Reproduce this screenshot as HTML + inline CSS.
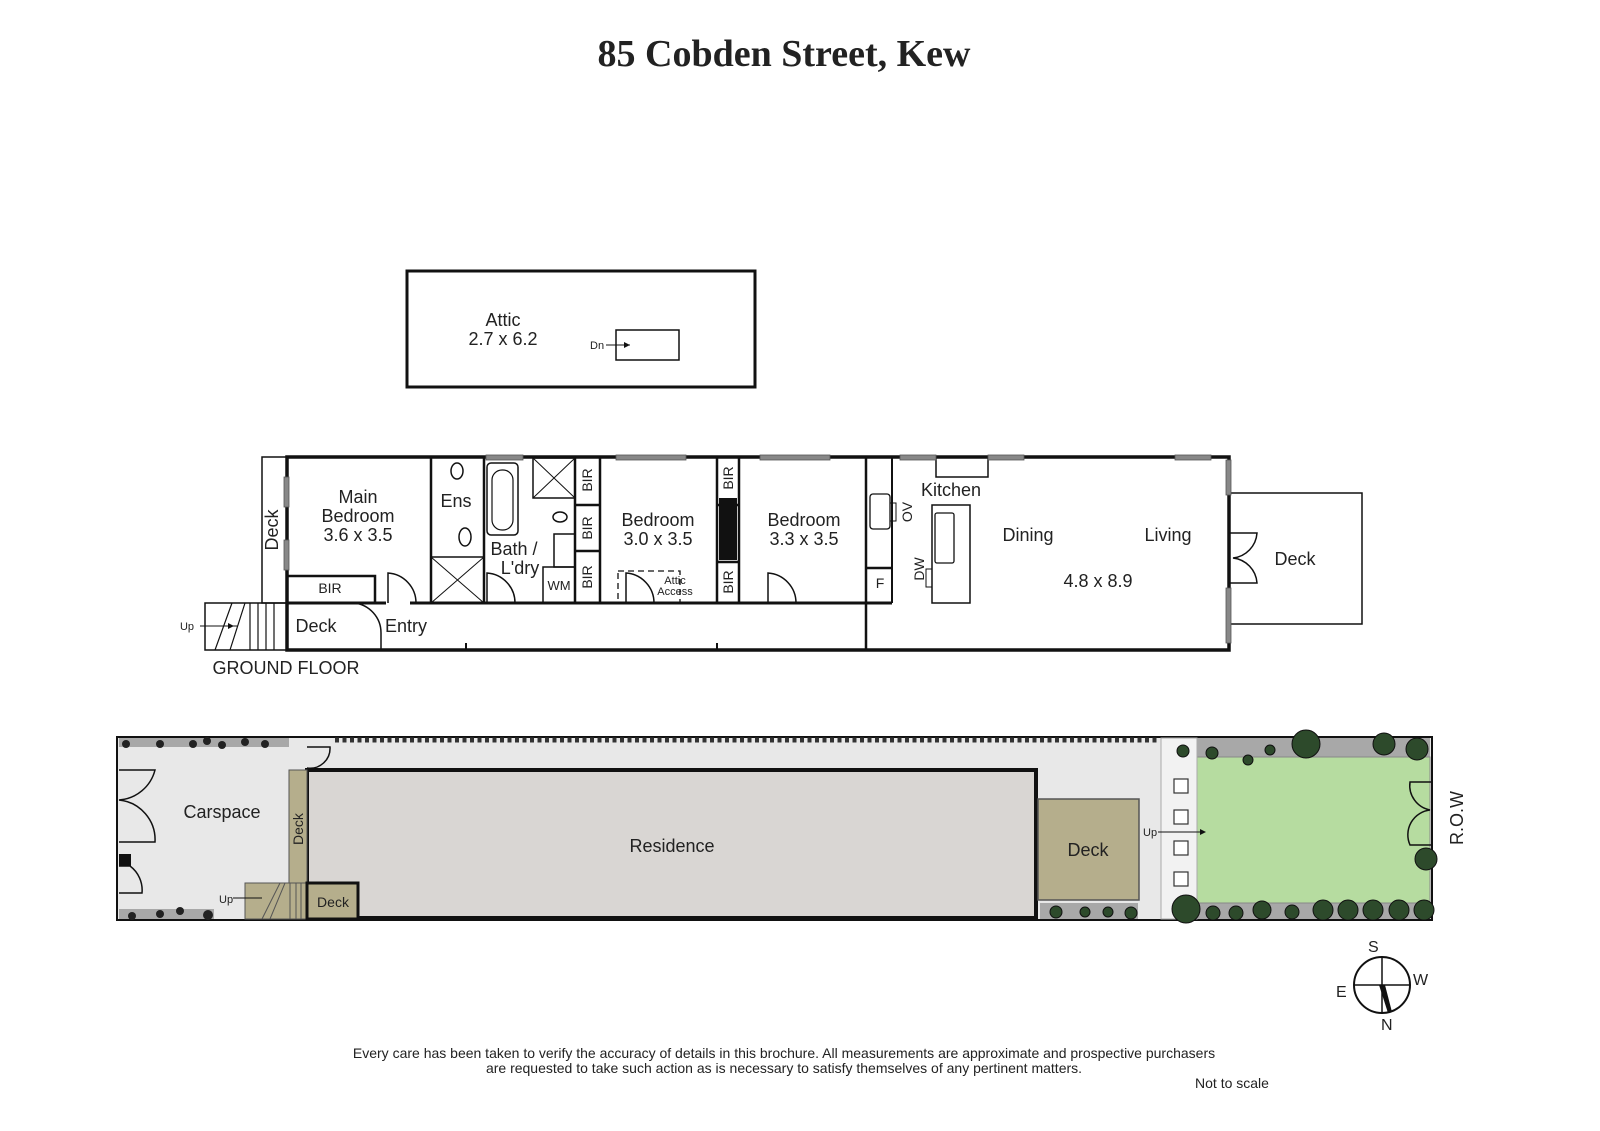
<!DOCTYPE html>
<html><head><meta charset="utf-8"><style>
html,body{margin:0;padding:0;background:#fff;width:1600px;height:1131px;overflow:hidden}
svg{display:block;position:absolute;left:0;top:0}
text{font-family:"Liberation Sans",sans-serif;fill:#222}
</style></head><body>
<svg width="1600" height="1131" viewBox="0 0 1600 1131" xmlns="http://www.w3.org/2000/svg">
<text x="784" y="66" text-anchor="middle" style="font-family:'Liberation Serif',serif;font-weight:bold;font-size:38px" fill="#111">85 Cobden Street, Kew</text>

<rect x="407" y="271" width="348" height="116" fill="none" stroke="#111" stroke-width="3"/>
<text x="503" y="326" font-size="18" text-anchor="middle">Attic</text>
<text x="503" y="345" font-size="18" text-anchor="middle">2.7 x 6.2</text>
<rect x="616" y="330" width="63" height="30" fill="none" stroke="#111" stroke-width="1.5"/>
<text x="590" y="349" font-size="11">Dn</text>
<line x1="606" y1="345" x2="630" y2="345" stroke="#111" stroke-width="1"/>
<polygon points="630,345 624,342 624,348" fill="#111"/>

<g stroke="#111" fill="none">
<rect x="262" y="457" width="25" height="146" stroke-width="1.5"/>
<rect x="1229" y="493" width="133" height="131" stroke-width="1.5"/>
<rect x="287" y="457" width="942" height="193" stroke-width="3.5"/>
<path d="M287 603 H386 M410 603 H866 M892 603 H866" stroke-width="3"/>
<line x1="431" y1="457" x2="431" y2="603" stroke-width="2.5"/>
<line x1="484" y1="457" x2="484" y2="603" stroke-width="2.5"/>
<line x1="575" y1="457" x2="575" y2="603" stroke-width="2.5"/>
<line x1="600" y1="457" x2="600" y2="603" stroke-width="2.5"/>
<line x1="717" y1="457" x2="717" y2="603" stroke-width="2.5"/>
<line x1="739" y1="457" x2="739" y2="603" stroke-width="2.5"/>
<line x1="866" y1="457" x2="866" y2="650" stroke-width="2.5"/>
<line x1="892" y1="457" x2="892" y2="603" stroke-width="2"/>
<line x1="866" y1="568" x2="892" y2="568" stroke-width="2.5"/>
<rect x="287" y="576" width="88" height="27" stroke-width="2.5"/>
<line x1="575" y1="505" x2="600" y2="505" stroke-width="2.5"/>
<line x1="575" y1="551" x2="600" y2="551" stroke-width="2.5"/>
<line x1="717" y1="505" x2="739" y2="505" stroke-width="2.5"/>
<line x1="717" y1="562" x2="739" y2="562" stroke-width="2.5"/>
<rect x="431" y="557" width="53" height="46" stroke-width="1.5"/>
<path d="M431 557 L484 603 M484 557 L431 603" stroke-width="1"/>
<rect x="533" y="458" width="42" height="40" stroke-width="1.5"/>
<path d="M533 458 L575 498 M575 458 L533 498" stroke-width="1"/>
<rect x="543" y="567" width="32" height="36" stroke-width="1.5"/>
<rect x="487" y="463" width="31" height="72" rx="4" stroke-width="1.5"/>
<rect x="492" y="470" width="21" height="60" rx="10" stroke-width="1.2"/>
<rect x="554" y="534" width="21" height="33" stroke-width="1.5"/>
<ellipse cx="457" cy="471" rx="6" ry="8" stroke-width="1.5"/>
<ellipse cx="465" cy="537" rx="6" ry="9" stroke-width="1.5"/>
<ellipse cx="560" cy="517" rx="7" ry="5" stroke-width="1.5"/>
<path d="M388 603 V573 A30 30 0 0 1 416 603" stroke-width="1.5"/>
<path d="M487 603 V573 A30 30 0 0 1 515 603" stroke-width="1.5"/>
<path d="M626 603 V573 A30 30 0 0 1 654 603" stroke-width="1.5"/>
<path d="M768 603 V573 A30 30 0 0 1 796 603" stroke-width="1.5"/>
<path d="M350 603 H354 A30 30 0 0 1 381 633 L381 650" stroke-width="1.5"/>
<path d="M1229 533 H1257 A27 27 0 0 1 1233 558 A27 27 0 0 1 1257 583 H1229" stroke-width="1.5"/>
<rect x="618" y="571" width="62" height="32" stroke-width="1.3" stroke-dasharray="6 4"/>
<rect x="936" y="457" width="52" height="20" stroke-width="1.5"/>
<rect x="932" y="505" width="38" height="98" stroke-width="1.5"/>
<rect x="935" y="513" width="19" height="50" rx="2" stroke-width="1.3"/>
<rect x="870" y="494" width="20" height="35" rx="3" stroke-width="1.3"/>
<rect x="890" y="503" width="6" height="18" stroke-width="1"/>
<rect x="926" y="569" width="6" height="18" stroke-width="1"/>
<rect x="205" y="603" width="82" height="47" stroke-width="1.5"/>
<path d="M250 603 V650 M258 603 V650 M266 603 V650 M274 603 V650 M230 650 L245 603 M215 650 L232 603" stroke-width="1.2"/>
<line x1="200" y1="626" x2="238" y2="626" stroke-width="1"/>
<path d="M466 643 V650 M717 643 V650" stroke-width="2"/>
</g>
<polygon points="234,626 228,623 228,629" fill="#111"/>
<rect x="719" y="498" width="18" height="62" fill="#111"/>
<g fill="#888" stroke="#555" stroke-width="0.8">
<rect x="486" y="455" width="37" height="5"/><rect x="616" y="455" width="70" height="5"/>
<rect x="760" y="455" width="70" height="5"/><rect x="900" y="455" width="36" height="5"/>
<rect x="988" y="455" width="36" height="5"/><rect x="1175" y="455" width="36" height="5"/>
<rect x="284" y="477" width="5" height="30" /><rect x="284" y="540" width="5" height="30"/>
<rect x="1226" y="460" width="5" height="35"/><rect x="1226" y="588" width="5" height="55"/>
</g>
<g font-size="18" text-anchor="middle">
<text x="358" y="503">Main</text><text x="358" y="522">Bedroom</text><text x="358" y="541">3.6 x 3.5</text>
<text x="456" y="507">Ens</text>
<text x="514" y="555">Bath /</text><text x="520" y="574">L'dry</text>
<text x="658" y="526">Bedroom</text><text x="658" y="545">3.0 x 3.5</text>
<text x="804" y="526">Bedroom</text><text x="804" y="545">3.3 x 3.5</text>
<text x="951" y="496">Kitchen</text>
<text x="1028" y="541">Dining</text><text x="1168" y="541">Living</text>
<text x="1098" y="587">4.8 x 8.9</text>
<text x="1295" y="565">Deck</text>
<text x="316" y="632">Deck</text><text x="406" y="632">Entry</text>
<text x="286" y="674" text-anchor="middle">GROUND FLOOR</text>
</g>
<g font-size="14" text-anchor="middle">
<text x="330" y="593">BIR</text><text x="559" y="590" font-size="13">WM</text><text x="880" y="588">F</text>
<text x="675" y="584" font-size="11">Attic</text><text x="675" y="595" font-size="11">Access</text>
<text x="187" y="630" font-size="11">Up</text>
<text transform="translate(592,480) rotate(-90)">BIR</text>
<text transform="translate(592,528) rotate(-90)">BIR</text>
<text transform="translate(592,577) rotate(-90)">BIR</text>
<text transform="translate(733,478) rotate(-90)">BIR</text>
<text transform="translate(733,582) rotate(-90)">BIR</text>
<text transform="translate(912,512) rotate(-90)">OV</text>
<text transform="translate(924,569) rotate(-90)">DW</text>
<text transform="translate(278,530) rotate(-90)" font-size="18">Deck</text>
</g>

<rect x="117" y="737" width="1315" height="183" fill="#e8e8e8" stroke="#111" stroke-width="2"/>
<rect x="119" y="738" width="170" height="9" fill="#a8a8a8"/>
<rect x="119" y="909" width="95" height="10" fill="#a8a8a8"/>
<rect x="1040" y="903" width="98" height="16" fill="#a8a8a8"/>
<rect x="1168" y="738" width="262" height="19" fill="#a8a8a8"/>
<rect x="1168" y="903" width="262" height="16" fill="#a8a8a8"/>
<rect x="1197" y="757" width="233" height="146" fill="#b6dca0" stroke="#888" stroke-width="1"/>
<rect x="1161" y="738" width="36" height="181" fill="#f2f2f2" stroke="#aaa" stroke-width="1"/>
<g fill="#fff" stroke="#333" stroke-width="1.2">
<rect x="1174" y="779" width="14" height="14"/><rect x="1174" y="810" width="14" height="14"/>
<rect x="1174" y="841" width="14" height="14"/><rect x="1174" y="872" width="14" height="14"/>
</g>
<text x="1143" y="836" font-size="11">Up</text>
<line x1="1158" y1="832" x2="1204" y2="832" stroke="#111"/>
<polygon points="1206,832 1200,829 1200,835" fill="#111"/>
<rect x="307" y="770" width="729" height="148" fill="#d9d6d3" stroke="#111" stroke-width="4"/>
<text x="672" y="852" font-size="18" text-anchor="middle">Residence</text>
<rect x="1038" y="799" width="101" height="101" fill="#b5ae8c" stroke="#555" stroke-width="1.5"/>
<text x="1088" y="856" font-size="18" text-anchor="middle">Deck</text>
<rect x="289" y="770" width="18" height="115" fill="#b5ae8c" stroke="#555" stroke-width="1"/>
<text transform="translate(303,845) rotate(-90)" font-size="14">Deck</text>
<rect x="245" y="883" width="62" height="36" fill="#b5ae8c" stroke="#555" stroke-width="1"/>
<path d="M290 883 V919 M296 883 V919 M301 883 V919 M262 919 L280 883 M270 919 L285 883" stroke="#555" stroke-width="1"/>
<rect x="307" y="883" width="51" height="36" fill="#b5ae8c" stroke="#111" stroke-width="3"/>
<text x="333" y="907" font-size="14" text-anchor="middle">Deck</text>
<text x="219" y="903" font-size="11">Up</text>
<line x1="233" y1="898" x2="262" y2="898" stroke="#111"/>
<text x="222" y="818" font-size="18" text-anchor="middle">Carspace</text>
<g stroke="#111" fill="none" stroke-width="1.5">
<path d="M119 770 H155 A40 40 0 0 1 119 800 A40 40 0 0 1 155 842 H119"/>
<path d="M119 866 H130 A30 30 0 0 1 142 893 H119"/>
<path d="M307 747 H330 A20 20 0 0 1 307 768"/>
</g>
<rect x="119" y="854" width="12" height="12" fill="#111"/>
<g fill="#222">
<circle cx="126" cy="744" r="4"/><circle cx="160" cy="744" r="4"/><circle cx="193" cy="744" r="4"/><circle cx="207" cy="741" r="4"/><circle cx="222" cy="745" r="4"/><circle cx="245" cy="742" r="4"/><circle cx="265" cy="744" r="4"/>
<circle cx="132" cy="916" r="4"/><circle cx="160" cy="914" r="4"/><circle cx="180" cy="911" r="4"/><circle cx="208" cy="915" r="5"/>
</g>
<path d="M335 740 H1160" stroke="#333" stroke-width="5" stroke-dasharray="4 3.5"/>
<g fill="#2d4a2b" stroke="#111" stroke-width="1">
<circle cx="1183" cy="751" r="6"/><circle cx="1212" cy="753" r="6"/><circle cx="1248" cy="760" r="5"/><circle cx="1270" cy="750" r="5"/>
<circle cx="1306" cy="744" r="14"/><circle cx="1384" cy="744" r="11"/><circle cx="1417" cy="749" r="11"/><circle cx="1426" cy="859" r="11"/>
<circle cx="1186" cy="909" r="14"/><circle cx="1213" cy="913" r="7"/><circle cx="1236" cy="913" r="7"/><circle cx="1262" cy="910" r="9"/><circle cx="1292" cy="912" r="7"/>
<circle cx="1323" cy="910" r="10"/><circle cx="1348" cy="910" r="10"/><circle cx="1373" cy="910" r="10"/><circle cx="1399" cy="910" r="10"/><circle cx="1424" cy="910" r="10"/>
<circle cx="1056" cy="912" r="6"/><circle cx="1085" cy="912" r="5"/><circle cx="1108" cy="912" r="5"/><circle cx="1131" cy="913" r="6"/>
</g>
<path d="M1432 782 H1410 A25 25 0 0 0 1430 810 A25 25 0 0 0 1410 845 H1432" stroke="#111" fill="none" stroke-width="1.5"/>
<text transform="translate(1463,845) rotate(-90)" font-size="18">R.O.W</text>

<circle cx="1382" cy="985" r="28" fill="none" stroke="#111" stroke-width="2"/>
<line x1="1354" y1="985" x2="1410" y2="985" stroke="#111" stroke-width="1.5"/>
<line x1="1382" y1="957" x2="1382" y2="1013" stroke="#111" stroke-width="1.5"/>
<polygon points="1379,985 1385,985 1392,1012 1388,1013" fill="#111"/>
<g font-size="16"><text x="1368" y="952">S</text><text x="1413" y="985">W</text><text x="1336" y="997">E</text><text x="1381" y="1030">N</text></g>

<g font-size="14" text-anchor="middle">
<text x="784" y="1058">Every care has been taken to verify the accuracy of details in this brochure.  All measurements are approximate and prospective purchasers</text>
<text x="784" y="1073">are requested to take such action as is necessary to satisfy themselves of any pertinent matters.</text>
<text x="1232" y="1088">Not to scale</text>
</g>
</svg>
</body></html>
